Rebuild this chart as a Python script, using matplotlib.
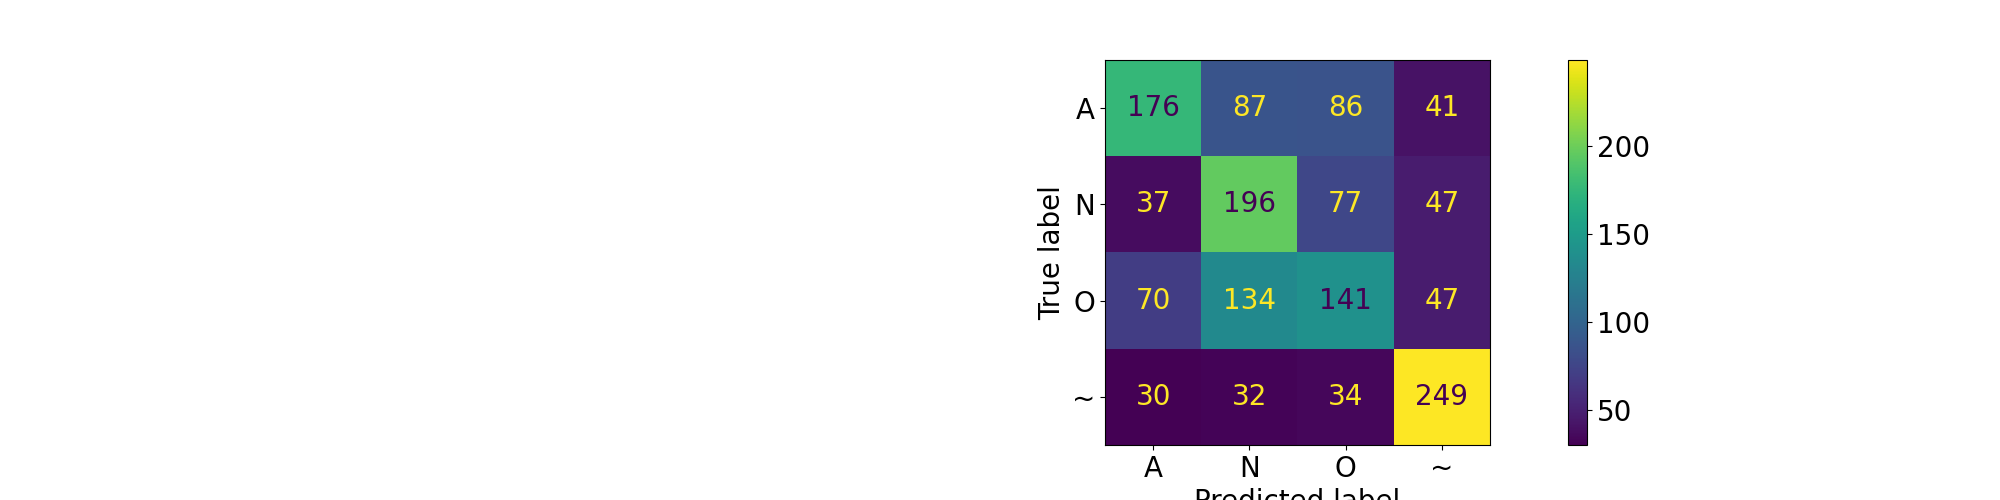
import matplotlib
matplotlib.use('Agg')
import matplotlib.pyplot as plt
import numpy as np

# 混同行列のデータ
labels = ['A', 'N', 'O', '~']
cm = np.array([
    [176, 87, 86, 41],
    [37, 196, 77, 47],
    [70, 134, 141, 47],
    [30, 32, 34, 249],
])
cbar_ticks = [50, 100, 150, 200]

plt.rcParams['font.size'] = 20

fig = plt.figure(figsize=(20, 5), dpi=100)
ax = fig.add_axes([1105 / 2000, 55 / 500, 385 / 2000, 385 / 500])
cax = fig.add_axes([1568 / 2000, 55 / 500, 19 / 2000, 385 / 500])

cmap = plt.get_cmap('viridis')
im = ax.imshow(cm, cmap=cmap, interpolation='nearest', aspect='auto')

# 文字色はしきい値で切り替え（sklearn と同じ方式）
thresh = (cm.max() + cm.min()) / 2.0
for i in range(cm.shape[0]):
    for j in range(cm.shape[1]):
        color = cmap(0) if cm[i, j] >= thresh else cmap(256)
        ax.text(j, i, str(cm[i, j]), ha='center', va='center', color=color)

ax.set_xticks(range(len(labels)))
ax.set_xticklabels(labels)
ax.set_yticks(range(len(labels)))
ax.set_yticklabels(labels)
ax.set_xlabel('Predicted label')
ax.set_ylabel('True label')

cb = fig.colorbar(im, cax=cax)
cb.set_ticks(cbar_ticks)

fig.savefig('out.png', dpi=100)
